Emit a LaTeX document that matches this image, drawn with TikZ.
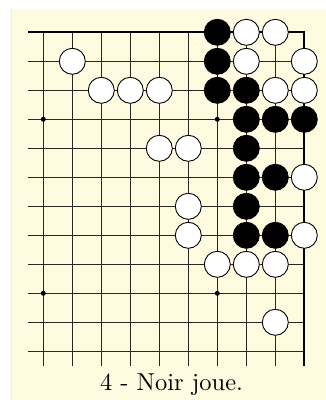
\documentclass[tikz,border=0pt]{standalone}
\definecolor{paper}{RGB}{255,251,224}
\definecolor{paperedge}{RGB}{250,240,175}
\definecolor{gridc}{RGB}{40,40,35}
\tikzset{
  gridline/.style={draw=gridc,line width=0.9pt},
  edgeline/.style={draw=black,line width=2pt},
  wstone/.style={circle,draw=black,fill=white,line width=0.9pt,minimum size=26pt,inner sep=0pt},
  bstone/.style={circle,draw=black,fill=black,line width=0.9pt,minimum size=26pt,inner sep=0pt},
  hoshi/.style={circle,fill=black,minimum size=5pt,inner sep=0pt},
}
\begin{document}
\begin{tikzpicture}[x=1pt,y=-1pt]
\useasboundingbox (0,0) rectangle (326,400);
\fill[paper] (11,9) rectangle (326,400);
\draw[paperedge,line width=0.8pt] (11.4,9) -- (11.4,400);
% grid
\foreach \j in {1,...,11} \draw[gridline] (28,{32.3+29*\j}) -- (304,{32.3+29*\j});
\foreach \i in {0,...,8} \draw[gridline] ({43.3+29*\i},32.3) -- ({43.3+29*\i},366);
\draw[edgeline] (28,32.3) -- (304.3,32.3) -- (304.3,366);
% hoshi
\foreach \i/\j [count=\k] in {0/3,6/3,0/9,6/9}
  \node[hoshi] (h\k) at ({43.3+29*\i},{32.3+29*\j}) {};
% black stones
\foreach \i/\j [count=\k] in {6/0,6/1,6/2,7/2,7/3,8/3,9/3,7/4,7/5,8/5,7/6,7/7,8/7}
  \node[bstone] (b\k) at ({43.3+29*\i},{32.3+29*\j}) {};
% white stones
\foreach \i/\j [count=\k] in {7/0,8/0,1/1,7/1,9/1,2/2,3/2,4/2,8/2,9/2,4/4,5/4,9/5,5/6,5/7,9/7,6/8,7/8,8/8,8/10}
  \node[wstone] (w\k) at ({43.3+29*\i},{32.3+29*\j}) {};
\node[anchor=base,inner sep=0pt] (cap) at (171.5,390.7) {\scalebox{2.45}{4 - Noir joue.}};
\end{tikzpicture}
\end{document}
